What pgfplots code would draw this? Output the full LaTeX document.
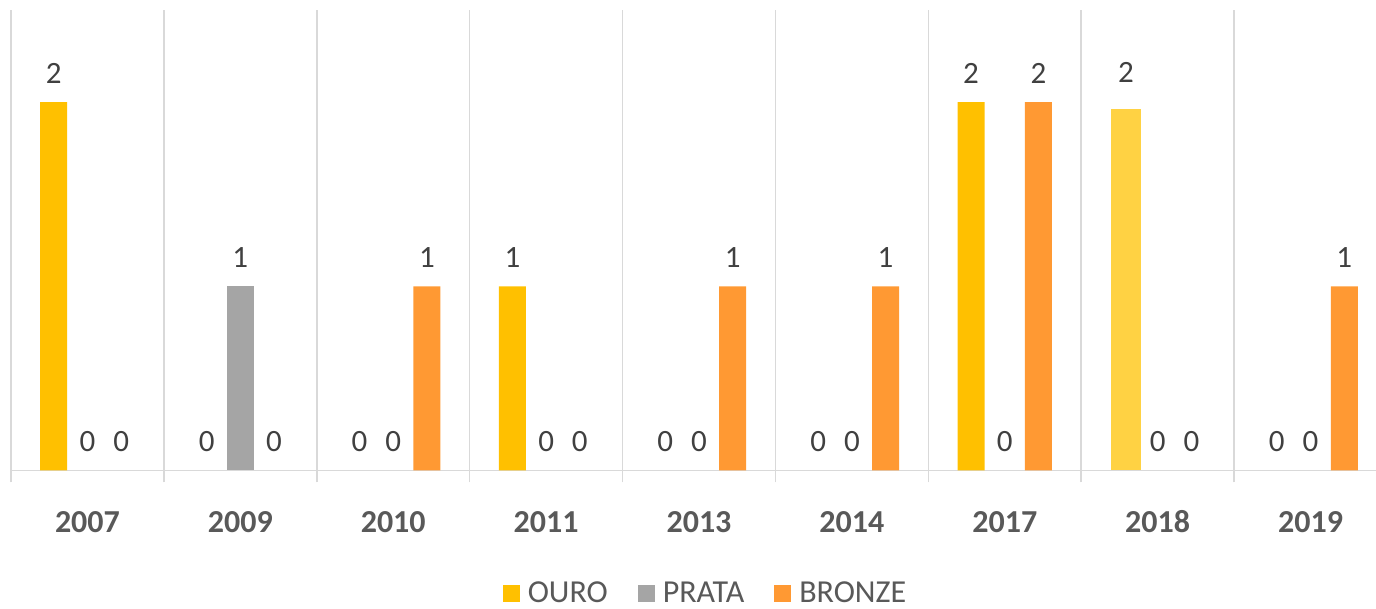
\documentclass[border=0pt]{standalone}
\usepackage{pgfplots}
\pgfplotsset{compat=1.18}
\usepackage{fontspec}
\setmainfont{Carlito}
\definecolor{ouro}{HTML}{FFC000}
\definecolor{ouroclaro}{HTML}{FFD243}
\definecolor{prata}{HTML}{A5A5A5}
\definecolor{bronze}{HTML}{FF9933}
\definecolor{gridc}{HTML}{D9D9D9}
\definecolor{txt}{HTML}{595959}
\definecolor{lbl}{HTML}{404040}
\begin{document}
\begin{tikzpicture}
\begin{axis}[
  scale only axis,
  width=688pt, height=230.25pt,
  xmin=-0.5, xmax=8.5, ymin=0, ymax=2.5,
  clip=false,
  /pgf/number format/assume math mode=true,
  axis y line=none,
  axis x line*=bottom,
  x axis line style={gridc, line width=0.75pt, -},
  xtick={0,...,8},
  xticklabels={2007,2009,2010,2011,2013,2014,2017,2018,2019},
  major tick length=0pt,
  minor xtick={-0.5,0.5,...,8.5},
  minor tick length=6pt,
  tick align=outside,
  minor x grid style={gridc, line width=0.75pt},
  xminorgrids=true,
  minor tick style={gridc, line width=0.75pt},
  xticklabel style={font=\fontsize{16}{19}\selectfont\bfseries, text=txt, anchor=base, yshift=-31.1pt},
  ybar,
  bar width=13.5pt,
  nodes near coords,
  every node near coord/.append style={font=\fontsize{15.5}{18}\selectfont, text=lbl, anchor=base, yshift=9.5pt},
  legend columns=-1,
  legend style={draw=none, at={(0.504,-0.268)}, anchor=center,
    font=\fontsize{16}{19}\selectfont, text=txt,
    nodes={inner sep=0pt},
    /tikz/every odd column/.append style={column sep=4pt},
    /tikz/every even column/.append style={column sep=15pt}},
  legend image code/.code={\fill[#1,draw=none] (0pt,-4.25pt) rectangle (8.5pt,4.25pt);},
]
% non-zero values
\addplot[fill=ouro, draw=none, bar shift=-16.85pt] coordinates {(0,2) (3,1) (6,2)};
\addplot[fill=prata, draw=none, bar shift=0pt] coordinates {(1,1)};
\addplot[fill=bronze, draw=none, bar shift=16.85pt] coordinates {(2,1) (4,1) (5,1) (6,2) (8,1)};
% 2018 gold bar (lighter shade)
\addplot[fill=ouroclaro, draw=none, bar shift=-15.85pt, bar width=15pt, forget plot,
  nodes near coords={2}, every node near coord/.append style={yshift=3.5pt}] coordinates {(7,1.963)};
% zero values (labels only)
\addplot[fill=none, draw=none, bar shift=-16.85pt, forget plot] coordinates {(1,0) (2,0) (4,0) (5,0) (8,0)};
\addplot[fill=none, draw=none, bar shift=0pt, forget plot] coordinates {(0,0) (2,0) (3,0) (4,0) (5,0) (6,0) (7,0) (8,0)};
\addplot[fill=none, draw=none, bar shift=16.85pt, forget plot] coordinates {(0,0) (1,0) (3,0) (7,0)};
\legend{OURO,PRATA,BRONZE}
\end{axis}
\pgfresetboundingbox
\path (-5.5pt,-69.25pt) rectangle (682.5pt,235.25pt);
\end{tikzpicture}
\end{document}
